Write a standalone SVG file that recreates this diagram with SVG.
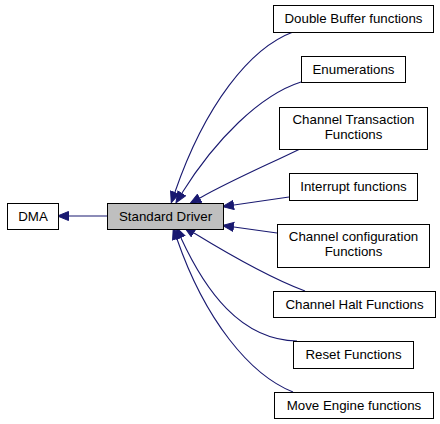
<svg xmlns="http://www.w3.org/2000/svg" width="440" height="424" viewBox="0 0 440 424">
<defs>
<style>
.n rect{fill:#ffffff;stroke:#000000;stroke-width:1}
.n.cur rect{fill:#bfbfbf}
.n text{font-family:"Liberation Sans",Arial,sans-serif;font-size:13.3px;fill:#000000;text-anchor:middle}
.e path{fill:none;stroke:#191970;stroke-width:1.1;marker-end:url(#ah)}
</style>
<marker id="ah" markerUnits="userSpaceOnUse" markerWidth="14" markerHeight="12" refX="0" refY="5" orient="auto">
<polygon points="0.5,0.5 11.5,5 0.5,9.5" fill="#191970" stroke="#191970" stroke-width="1"/>
</marker>
</defs>
<rect width="440" height="424" fill="#ffffff"/>
<g id="connectors" class="e">
<path d="M107,216 L69,216"/>
<path d="M293,32 C250,48 205,105 175,192"/>
<path d="M301,82 C260,95 215,140 182,193"/>
<path d="M300,149 C265,166 230,181 200,198"/>
<path d="M289,197 L234,205"/>
<path d="M277,233 L234,227"/>
<path d="M305,291 C270,278 230,255 194,233"/>
<path d="M297,341 C240,340 205,290 181,238"/>
<path d="M293,392 C250,375 205,320 177,239"/>
</g>
<g id="dma" class="n"><rect x="7.5" y="203.5" width="51" height="26"/><text x="33" y="220.5">DMA</text></g>
<g id="std" class="n cur"><rect x="107.5" y="203.5" width="116" height="26"/><text x="165.5" y="220.5">Standard Driver</text></g>
<g id="dbuf" class="n"><rect x="273.5" y="5.5" width="160" height="27"/><text x="353.5" y="23">Double Buffer functions</text></g>
<g id="enum" class="n"><rect x="301.5" y="56.5" width="104" height="26"/><text x="353.5" y="73.5">Enumerations</text></g>
<g id="ctrans" class="n"><rect x="279.5" y="107.5" width="148" height="42"/><text x="353.5" y="124">Channel Transaction</text><text x="353.5" y="139">Functions</text></g>
<g id="intr" class="n"><rect x="289.5" y="173.5" width="128" height="27"/><text x="353.5" y="191">Interrupt functions</text></g>
<g id="cconf" class="n"><rect x="277.5" y="224.5" width="152" height="43"/><text x="353.5" y="241">Channel configuration</text><text x="353.5" y="256">Functions</text></g>
<g id="halt" class="n"><rect x="273.5" y="291.5" width="162" height="26"/><text x="354.5" y="308.5">Channel Halt Functions</text></g>
<g id="reset" class="n"><rect x="293.5" y="341.5" width="120" height="27"/><text x="353.5" y="359">Reset Functions</text></g>
<g id="move" class="n"><rect x="274.5" y="392.5" width="159" height="26"/><text x="354" y="409.5">Move Engine functions</text></g>
</svg>
